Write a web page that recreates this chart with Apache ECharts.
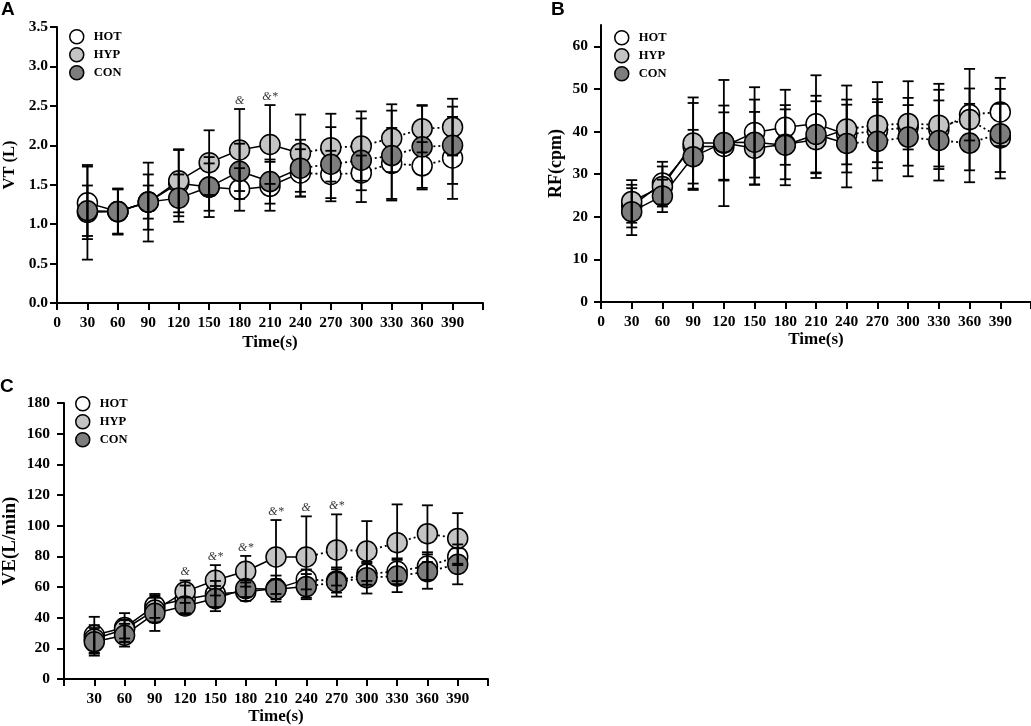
<!DOCTYPE html>
<html>
<head>
<meta charset="utf-8">
<script src="https://cdn.jsdelivr.net/npm/echarts@6/dist/echarts.min.js"></script>
<style>
html, body {margin: 0; padding: 0; background: #fff;}
#main {width: 1031px; height: 726px;}
</style>
</head>
<body>
<div id="main"></div>
<script>
// time points (s) and axis ticks
var times = [30, 60, 90, 120, 150, 180, 210, 240, 270, 300, 330, 360, 390];
var xTicks = [0, 30, 60, 90, 120, 150, 180, 210, 240, 270, 300, 330, 360, 390, 420];
var xLabelsAB = [0, 30, 60, 90, 120, 150, 180, 210, 240, 270, 300, 330, 360, 390];
var xLabelsC = [30, 60, 90, 120, 150, 180, 210, 240, 270, 300, 330, 360, 390];

// A: VT (L)
var vtTicks = [0, 0.5, 1, 1.5, 2, 2.5, 3, 3.5];
var vtHot = [1.27, 1.16, 1.28, 1.52, 1.47, 1.44, 1.48, 1.65, 1.63, 1.65, 1.77, 1.74, 1.84];
var vtHyp = [1.15, 1.16, 1.28, 1.55, 1.78, 1.94, 2.01, 1.90, 1.97, 1.99, 2.09, 2.21, 2.23];
var vtCon = [1.17, 1.16, 1.28, 1.33, 1.47, 1.67, 1.54, 1.71, 1.76, 1.81, 1.87, 1.98, 2.00];
var vtHotSd = [0.46, 0.29, 0.35, 0.42, 0.30, 0.27, 0.31, 0.30, 0.30, 0.22, 0.45, 0.30, 0.52];
var vtHypSd = [0.60, 0.28, 0.50, 0.40, 0.41, 0.52, 0.50, 0.49, 0.43, 0.44, 0.43, 0.30, 0.36];
var vtConSd = [0.32, 0.29, 0.21, 0.30, 0.38, 0.35, 0.28, 0.36, 0.47, 0.53, 0.57, 0.52, 0.49];
var vtMarkTimes = [180, 210];
var vtMarkTexts = ['&', '&*'];

// B: RF (cpm)
var rfTicks = [0, 10, 20, 30, 40, 50, 60];
var rfHot = [22.5, 27.9, 36.5, 36.5, 39.8, 41.0, 41.8, 39.3, 40.2, 41.0, 40.5, 44.0, 44.6];
var rfHyp = [23.6, 27.1, 37.3, 37.3, 36.1, 37.0, 38.1, 40.6, 41.5, 41.9, 41.5, 42.8, 38.5];
var rfCon = [21.2, 24.9, 34.1, 37.4, 37.5, 36.8, 39.3, 37.2, 37.7, 38.7, 37.9, 37.3, 39.5];
var rfHotSd = [5.0, 5.0, 10.2, 8.0, 10.6, 8.8, 11.4, 7.0, 7.4, 5.2, 9.3, 6.1, 8.0];
var rfHypSd = [5.0, 4.7, 10.7, 14.8, 8.5, 8.2, 9.0, 10.2, 10.1, 9.9, 9.7, 11.9, 8.0];
var rfConSd = [5.5, 3.8, 6.3, 8.7, 10.0, 9.4, 9.1, 10.3, 9.2, 9.2, 9.4, 9.2, 10.5];

// C: VE (L/min)
var veTicks = [0, 20, 40, 60, 80, 100, 120, 140, 160, 180];
var veHot = [28.6, 33.6, 47.7, 52.0, 55.5, 57.0, 59.0, 65.0, 64.0, 68.5, 70.3, 73.7, 79.8];
var veHyp = [26.2, 32.5, 45.0, 57.0, 64.4, 70.3, 79.6, 79.6, 84.2, 83.5, 88.9, 94.8, 91.7];
var veCon = [24.3, 28.6, 42.9, 47.7, 52.5, 59.0, 58.6, 60.3, 63.3, 66.1, 67.2, 70.1, 74.8];
var veHotSd = [12.0, 9.4, 7.8, 9.0, 8.5, 6.0, 8.5, 6.5, 7.6, 7.0, 8.4, 9.0, 5.5];
var veHypSd = [9.0, 6.0, 8.0, 7.3, 9.9, 10.0, 24.1, 26.5, 23.2, 19.5, 25.0, 18.5, 16.5];
var veConSd = [9.0, 7.4, 11.5, 5.5, 8.2, 5.5, 6.5, 8.2, 9.5, 10.3, 10.5, 11.2, 13.0];
var veMarkTimes = [120, 150, 180, 210, 240, 270];
var veMarkTexts = ['&', '&*', '&*', '&*', '&', '&*'];

var groups = ['HOT', 'HYP', 'CON'];
var fills = {HOT: '#ffffff', HYP: '#c4c4c4', CON: '#7d7d7d'};
var serif = '"Liberation Serif", "Times New Roman", serif';
var SOLID_END = 8; // solid line up to 240 s, dotted after

function pairs(vals) {
    return times.map(function (t, i) { return [t, vals[i]]; });
}

function renderBar(params, api) {
    var x = api.value(0);
    var lo = api.coord([x, api.value(1)]);
    var hi = api.coord([x, api.value(2)]);
    var w = 5.5;
    var st = {stroke: '#000', lineWidth: 1.8};
    return {
        type: 'group',
        children: [
            {type: 'line', shape: {x1: lo[0], y1: lo[1], x2: hi[0], y2: hi[1]}, style: st},
            {type: 'line', shape: {x1: hi[0] - w, y1: hi[1], x2: hi[0] + w, y2: hi[1]}, style: st},
            {type: 'line', shape: {x1: lo[0] - w, y1: lo[1], x2: lo[0] + w, y2: lo[1]}, style: st}
        ]
    };
}

function panelSeries(idx, means, sds, markTimes, markTexts) {
    var out = [];
    groups.forEach(function (g, k) {
        var pts = pairs(means[k]);
        out.push({
            name: g, type: 'line', xAxisIndex: idx, yAxisIndex: idx, z: 2,
            data: pts.slice(0, SOLID_END), showSymbol: false, silent: true,
            lineStyle: {color: '#000', width: 1.5}
        });
        out.push({
            name: g, type: 'line', xAxisIndex: idx, yAxisIndex: idx, z: 2,
            data: pts.slice(SOLID_END - 1), showSymbol: false, silent: true,
            lineStyle: {color: '#000', width: 1.8, type: [2, 3]}
        });
    });
    groups.forEach(function (g, k) {
        out.push({
            name: g, type: 'scatter', xAxisIndex: idx, yAxisIndex: idx, z: 3,
            data: pairs(means[k]), symbol: 'circle', symbolSize: 20, silent: true,
            itemStyle: {color: fills[g], borderColor: '#000', borderWidth: 1.5, opacity: 1}
        });
    });
    groups.forEach(function (g, k) {
        out.push({
            name: g, type: 'custom', xAxisIndex: idx, yAxisIndex: idx, z: 4, silent: true,
            renderItem: renderBar, encode: {x: 0, y: [1, 2]},
            data: times.map(function (t, i) {
                return [t, means[k][i] - sds[k][i], means[k][i] + sds[k][i]];
            })
        });
    });
    if (markTimes) {
        // significance marks sit just above the HYP error bar
        out.push({
            type: 'scatter', xAxisIndex: idx, yAxisIndex: idx, z: 5, silent: true,
            symbolSize: 1, itemStyle: {color: 'rgba(0,0,0,0)'},
            data: markTimes.map(function (t) {
                var i = times.indexOf(t);
                return [t, means[1][i] + sds[1][i]];
            }),
            label: {
                show: true, position: 'top', distance: 2, color: '#000',
                fontFamily: serif, fontStyle: 'italic', fontSize: 12,
                formatter: function (p) { return markTexts[p.dataIndex]; }
            }
        });
    }
    return out;
}

function makeX(idx, labels, nameGap) {
    return {
        type: 'value', gridIndex: idx, min: 0, max: 420, interval: 30,
        name: 'Time(s)', nameLocation: 'middle', nameGap: nameGap,
        nameTextStyle: {fontFamily: serif, fontWeight: 'bold', fontSize: 17, color: '#000'},
        axisLine: {lineStyle: {color: '#000', width: 2}},
        axisTick: {length: 7, lineStyle: {color: '#000', width: 2}, customValues: xTicks},
        axisLabel: {customValues: labels, fontFamily: serif, fontWeight: 'bold', fontSize: 15.5, color: '#000', margin: 12},
        splitLine: {show: false}
    };
}

function makeY(idx, name, max, interval, ticks, nameGap, nameSize, margin, digits) {
    return {
        type: 'value', gridIndex: idx, min: 0, max: max, interval: interval,
        name: name, nameLocation: 'middle', nameGap: nameGap,
        nameTextStyle: {fontFamily: serif, fontWeight: 'bold', fontSize: nameSize, color: '#000'},
        axisLine: {show: true, lineStyle: {color: '#000', width: 2}},
        axisTick: {show: true, length: 7, lineStyle: {color: '#000', width: 2}, customValues: ticks},
        axisLabel: {
            customValues: ticks, fontFamily: serif, fontWeight: 'bold', fontSize: 15.5, color: '#000', margin: margin,
            formatter: function (v) { return v.toFixed(digits); }
        },
        splitLine: {show: false}
    };
}

function makeLegend(left, top) {
    return {
        orient: 'vertical', left: left, top: top, icon: 'circle',
        itemWidth: 24, itemHeight: 14, itemGap: 2.5, selectedMode: false,
        textStyle: {fontFamily: serif, fontWeight: 'bold', fontSize: 12.5, color: '#000'},
        data: groups.map(function (g) {
            return {name: g, itemStyle: {color: fills[g], borderColor: '#000', borderWidth: 1.5}};
        })
    };
}

var myChart = echarts.init(document.getElementById('main'), null, {renderer: 'canvas'});
var series = []
    .concat(panelSeries(0, [vtHot, vtHyp, vtCon], [vtHotSd, vtHypSd, vtConSd], vtMarkTimes, vtMarkTexts))
    .concat(panelSeries(1, [rfHot, rfHyp, rfCon], [rfHotSd, rfHypSd, rfConSd]))
    .concat(panelSeries(2, [veHot, veHyp, veCon], [veHotSd, veHypSd, veConSd], veMarkTimes, veMarkTexts));

myChart.setOption({
    animation: false,
    backgroundColor: '#fff',
    grid: [
        {left: 54, top: 27, width: 429, height: 276},
        {left: 601, top: 25, width: 430, height: 277},
        {left: 59, top: 403, width: 429, height: 277}
    ],
    legend: [makeLegend(64, 24), makeLegend(609, 25), makeLegend(70, 391)],
    xAxis: [makeX(0, xLabelsAB, 31), makeX(1, xLabelsAB, 29), makeX(2, xLabelsC, 26)],
    yAxis: [
        makeY(0, 'VT (L)', 3.5, 0.5, vtTicks, 39, 16.5, 9, 1),
        makeY(1, 'RF(cpm)', 65, 10, rfTicks, 36, 18, 13, 0),
        makeY(2, 'VE(L/min)', 180, 20, veTicks, 44, 19, 14, 0)
    ],
    graphic: [
        {type: 'text', left: 1, top: 0, style: {text: 'A', font: 'bold 19px "Liberation Sans", Arial, sans-serif', fill: '#000'}},
        {type: 'text', left: 551, top: 0, style: {text: 'B', font: 'bold 19px "Liberation Sans", Arial, sans-serif', fill: '#000'}},
        {type: 'text', left: 0, top: 377, style: {text: 'C', font: 'bold 19px "Liberation Sans", Arial, sans-serif', fill: '#000'}}
    ],
    series: series
});
</script>
</body>
</html>
